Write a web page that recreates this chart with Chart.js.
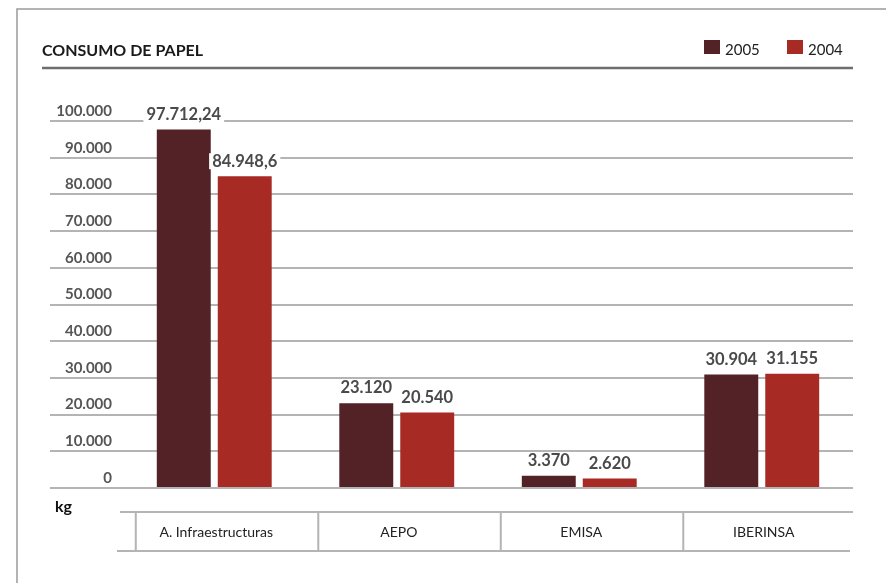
<!DOCTYPE html>
<html>
<head>
<meta charset="utf-8">
<script src="https://cdn.jsdelivr.net/npm/chart.js@4"></script>
<style>
    body { margin: 0; background: #fff; }
    canvas { display: block; }
</style>
</head>
<body>
<canvas id="paperChart" width="886" height="583"></canvas>
<script>
const chartTitle = "CONSUMO DE PAPEL";
const unitLabel = "kg";
const categories = ["A. Infraestructuras", "AEPO", "EMISA", "IBERINSA"];
const seriesNames = ["2005", "2004"];
const values2005 = [97712.24, 23120, 3370, 30904];
const values2004 = [84948.6, 20540, 2620, 31155];
const yMax = 100000;
const yStep = 10000;

const darkColor = "#532226";
const redColor = "#a82a25";
const gridColor = "#b4b4b4";
const fontFamily = "Lato, 'Open Sans', sans-serif";

// 97712.24 -> "97.712,24"
function formatEs(value) {
    const parts = String(value).split(".");
    const intPart = parts[0].replace(/\B(?=(\d{3})+(?!\d))/g, ".");
    return parts.length > 1 ? intPart + "," + parts[1] : intPart;
}

const decorPlugin = {
    id: "decor",
    beforeDraw(chart) {
        const ctx = chart.ctx;
        ctx.save();
        // page frame
        ctx.strokeStyle = "#9a9a9a";
        ctx.lineWidth = 1.5;
        ctx.beginPath();
        ctx.moveTo(17, 583);
        ctx.lineTo(17, 9);
        ctx.lineTo(886, 9);
        ctx.stroke();

        // title + rule
        ctx.fillStyle = "#1a1a1a";
        ctx.font = "bold 16px " + fontFamily;
        ctx.textBaseline = "middle";
        ctx.textAlign = "left";
        ctx.fillText(chartTitle, 42, 51);
        ctx.strokeStyle = "#6e6e6e";
        ctx.lineWidth = 2.5;
        ctx.beginPath();
        ctx.moveTo(42, 68);
        ctx.lineTo(853, 68);
        ctx.stroke();

        // legend
        const legendX = [704, 787];
        chart.data.datasets.forEach((ds, i) => {
            ctx.fillStyle = ds.backgroundColor;
            ctx.fillRect(legendX[i], 40, 16, 14);
            ctx.fillStyle = "#222";
            ctx.font = "15px " + fontFamily;
            ctx.fillText(ds.label, legendX[i] + 21, 50);
        });
        ctx.restore();
    },
    afterDraw(chart) {
        const ctx = chart.ctx;
        const x = chart.scales.x;
        const area = chart.chartArea;
        const step = (area.right - area.left) / categories.length;
        ctx.save();

        // unit
        ctx.fillStyle = "#111";
        ctx.font = "bold 16px " + fontFamily;
        ctx.textBaseline = "middle";
        ctx.textAlign = "left";
        ctx.fillText(unitLabel, 55, 507);

        // category table
        ctx.strokeStyle = gridColor;
        ctx.lineWidth = 2;
        ctx.beginPath();
        ctx.moveTo(120, 512);
        ctx.lineTo(area.right, 512);
        ctx.moveTo(117, 551);
        ctx.lineTo(area.right - 3, 551);
        categories.forEach((c, i) => {
            const bx = x.getPixelForValue(i) - step * 0.43;
            ctx.moveTo(bx, 512);
            ctx.lineTo(bx, 551);
        });
        ctx.stroke();

        ctx.fillStyle = "#222";
        ctx.font = "14px " + fontFamily;
        ctx.textAlign = "center";
        categories.forEach((c, i) => {
            ctx.fillText(c, x.getPixelForValue(i) + 2, 532);
        });
        ctx.restore();
    },
    afterDatasetsDraw(chart) {
        const ctx = chart.ctx;
        ctx.save();
        ctx.font = "bold 16.5px " + fontFamily;
        ctx.textAlign = "center";
        ctx.textBaseline = "middle";
        chart.data.datasets.forEach((ds, di) => {
            const meta = chart.getDatasetMeta(di);
            meta.data.forEach((bar, i) => {
                const text = formatEs(ds.data[i]);
                const w = ctx.measureText(text).width;
                const cy = bar.y - 15;
                ctx.fillStyle = "#fff";
                ctx.fillRect(bar.x - w / 2 - 3, cy - 8, w + 6, 16);
                ctx.fillStyle = "#4a4a4a";
                ctx.fillText(text, bar.x, cy);
            });
        });
        ctx.restore();
    }
};

new Chart(document.getElementById("paperChart"), {
    type: "bar",
    data: {
        labels: categories,
        datasets: [
            { label: seriesNames[0], data: values2005, backgroundColor: darkColor },
            { label: seriesNames[1], data: values2004, backgroundColor: redColor }
        ]
    },
    options: {
        responsive: false,
        animation: false,
        layout: { padding: { top: 121, bottom: 95, left: 50, right: 33 } },
        datasets: {
            bar: { categoryPercentage: 0.668, barPercentage: 0.885 }
        },
        plugins: {
            legend: { display: false },
            tooltip: { enabled: false }
        },
        scales: {
            x: { display: false },
            y: {
                min: 0,
                max: yMax,
                afterFit: (axis) => { axis.width = 73; },
                border: { display: false },
                grid: { color: gridColor, lineWidth: 2, drawTicks: true, tickLength: 73 },
                ticks: {
                    stepSize: yStep,
                    padding: -62,
                    labelOffset: -10,
                    color: "#555",
                    font: { family: fontFamily, size: 15, weight: "bold" },
                    callback: (v) => formatEs(v)
                }
            }
        }
    },
    plugins: [decorPlugin]
});
</script>
</body>
</html>
